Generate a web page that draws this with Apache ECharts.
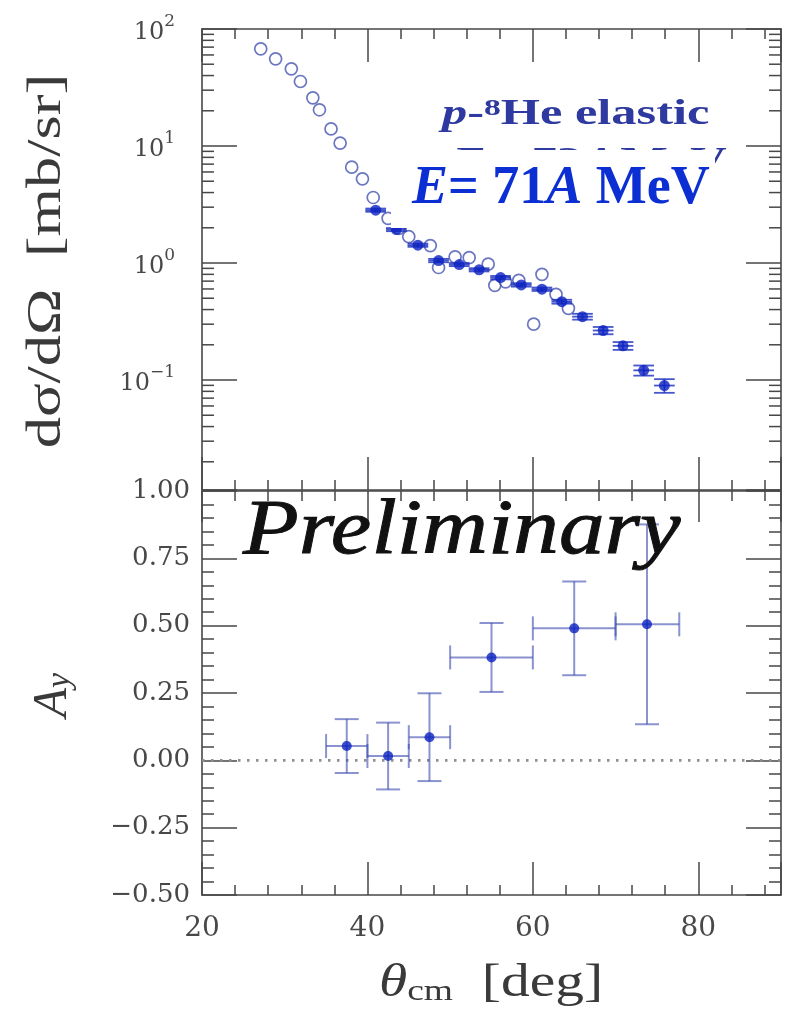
<!DOCTYPE html>
<html>
<head>
<meta charset="utf-8">
<script src="https://cdn.jsdelivr.net/npm/echarts@6/dist/echarts.min.js"></script>
<style>
  html, body { margin: 0; padding: 0; background: #fff; }
  #chart { width: 788px; height: 1015px; }
</style>
</head>
<body>
<div id="chart"></div>
<script>
// ---- shared angle axis (theta_cm, degrees) ----
const thetaMin = 20;
const thetaMax = 90;
const thetaMajorStep = 20;
const thetaMinorStep = 4;

// ---- p-8He elastic cross section, open circles ----
const openTheta = [27.1, 28.9, 30.8, 31.9, 33.4, 34.2, 35.6, 36.7, 38.1, 39.4, 40.7,
                   42.5, 43.8, 45.0, 47.6, 48.6, 50.6, 52.3, 54.6, 55.4, 56.7, 58.3,
                   60.1, 61.1, 62.8, 64.3];
const openSigma = [67.7, 55.6, 45.7, 35.6, 25.8, 20.4, 14.0, 10.6, 6.59, 5.24, 3.63,
                   2.41, 1.98, 1.68, 1.41, 0.915, 1.13, 1.11, 0.98, 0.645, 0.69, 0.71,
                   0.30, 0.80, 0.54, 0.41];

// ---- cross section, filled circles with bin width and errors ----
const filledTheta = [41.0, 43.5, 46.1, 48.6, 51.1, 53.5, 56.1, 58.6, 61.1, 63.5, 66.0,
                     68.5, 70.9, 73.4, 75.9];
const filledSigma = [2.83, 1.93, 1.42, 1.05, 0.97, 0.875, 0.75, 0.65, 0.597, 0.467,
                     0.348, 0.265, 0.196, 0.121, 0.0897];
const filledSigmaErr = [0.09, 0.06, 0.045, 0.035, 0.03, 0.028, 0.025, 0.022, 0.02,
                        0.018, 0.02, 0.019, 0.015, 0.012, 0.012];
const filledHalfBin = 1.25;

// ---- analyzing power A_y ----
const ayTheta = [37.5, 42.5, 47.5, 55.0, 65.0, 73.8];
const ayValue = [0.053, 0.016, 0.086, 0.382, 0.490, 0.505];
const ayErr = [0.100, 0.124, 0.163, 0.128, 0.174, 0.371];
const ayThetaLow = [35, 40, 45, 50, 60, 70];
const ayThetaHigh = [40, 45, 50, 60, 70, 77.7];

// ---- axis ranges ----
const sigmaMin = 0.01148;
const sigmaMax = 100;
const ayMin = -0.5;
const ayMax = 1.0;
const ayStep = 0.25;

const axisColor = '#474747';
const labelColor = '#484848';
const titleColor = '#3a3a3a';
const numFont = 'DejaVu Serif';
const textFont = 'Liberation Serif';

// minor ticks of the log axis: 2..9 x 10^k
const logMinor = [];
for (let k = -2; k <= 1; k++) {
  for (let m = 2; m <= 9; m++) {
    const v = m * Math.pow(10, k);
    if (v > sigmaMin && v < sigmaMax) logMinor.push([thetaMin, v]);
  }
}

function thetaAxis(gridIndex, position, step, tickLen, withLine, withLabels) {
  return {
    type: 'value', gridIndex, position, min: thetaMin, max: thetaMax, interval: step,
    axisLine: { show: withLine, onZero: false, lineStyle: { color: axisColor, width: 1.6 } },
    axisTick: { show: true, inside: true, length: tickLen, lineStyle: { color: axisColor, width: 1.5 } },
    axisLabel: withLabels ? {
      show: true, margin: 20, color: labelColor, fontFamily: numFont, fontSize: 28,
      formatter: v => (v % thetaMajorStep === 0 ? String(v) : '')
    } : { show: false },
    splitLine: { show: false }
  };
}

function sigmaAxis(position, withLabels) {
  return {
    type: 'log', logBase: 10, gridIndex: 0, position, min: sigmaMin, max: sigmaMax,
    axisLine: { show: true, onZero: false, lineStyle: { color: axisColor, width: 1.6 } },
    axisTick: { show: true, inside: true, length: 35, lineStyle: { color: axisColor, width: 1.5 } },
    axisLabel: withLabels ? {
      show: true, margin: 27, color: labelColor,
      formatter: v => {
        const e = Math.log10(v);
        const r = Math.round(e);
        if (Math.abs(e - r) > 1e-6) return '';
        return '{b|10}{s|' + (r < 0 ? '\u2212' : '') + Math.abs(r) + '}';
      },
      rich: {
        b: { fontFamily: numFont, fontSize: 24, lineHeight: 32, verticalAlign: 'bottom', color: labelColor },
        s: { fontFamily: numFont, fontSize: 17, lineHeight: 18, verticalAlign: 'top', color: labelColor }
      }
    } : { show: false },
    splitLine: { show: false }
  };
}

function ayAxis(position, withLabels) {
  return {
    type: 'value', gridIndex: 1, position, min: ayMin, max: ayMax, interval: ayStep,
    axisLine: { show: true, onZero: false, lineStyle: { color: axisColor, width: 1.6 } },
    axisTick: { show: true, inside: true, length: 35, lineStyle: { color: axisColor, width: 1.5 } },
    minorTick: { show: true, splitNumber: 5, length: 12, lineStyle: { color: axisColor, width: 1.5 } },
    axisLabel: withLabels ? {
      show: true, margin: 12, color: labelColor, fontFamily: numFont, fontSize: 26,
      formatter: v => (v < 0 ? '\u2212' : '') + Math.abs(v).toFixed(2)
    } : { show: false },
    splitLine: { show: false }
  };
}

// I-beam error bars for the cross-section points (caps span the angular bin)
function renderSigmaErr(params, api) {
  const th = api.value(0), s = api.value(1), err = api.value(2);
  const c = api.coord([th, s]);
  const lo = api.coord([th, s - err]);
  const hi = api.coord([th, s + err]);
  const l = api.coord([th - filledHalfBin, s]);
  const r = api.coord([th + filledHalfBin, s]);
  const style = { stroke: 'rgba(25,45,190,0.8)', lineWidth: 1.8 };
  return {
    type: 'group',
    children: [
      { type: 'line', shape: { x1: c[0], y1: lo[1], x2: c[0], y2: hi[1] }, style },
      { type: 'line', shape: { x1: l[0], y1: lo[1], x2: r[0], y2: lo[1] }, style },
      { type: 'line', shape: { x1: l[0], y1: hi[1], x2: r[0], y2: hi[1] }, style },
      { type: 'line', shape: { x1: l[0], y1: c[1], x2: r[0], y2: c[1] }, style }
    ]
  };
}

// cross-shaped error bars for A_y
function renderAyErr(params, api) {
  const th = api.value(0), a = api.value(1), err = api.value(2);
  const thLo = api.value(3), thHi = api.value(4);
  const c = api.coord([th, a]);
  const lo = api.coord([th, a - err]);
  const hi = api.coord([th, a + err]);
  const l = api.coord([thLo, a]);
  const r = api.coord([thHi, a]);
  const cap = 12;
  const style = { stroke: 'rgba(60,75,175,0.6)', lineWidth: 2 };
  return {
    type: 'group',
    children: [
      { type: 'line', shape: { x1: c[0], y1: lo[1], x2: c[0], y2: hi[1] }, style },
      { type: 'line', shape: { x1: c[0] - cap, y1: lo[1], x2: c[0] + cap, y2: lo[1] }, style },
      { type: 'line', shape: { x1: c[0] - cap, y1: hi[1], x2: c[0] + cap, y2: hi[1] }, style },
      { type: 'line', shape: { x1: l[0], y1: c[1], x2: r[0], y2: c[1] }, style },
      { type: 'line', shape: { x1: l[0], y1: c[1] - cap, x2: l[0], y2: c[1] + cap }, style },
      { type: 'line', shape: { x1: r[0], y1: c[1] - cap, x2: r[0], y2: c[1] + cap }, style }
    ]
  };
}

// short log-minor ticks on both vertical edges of the upper panel
function renderLogMinor(params, api) {
  const v = api.value(1);
  const p = api.coord([thetaMin, v]);
  const q = api.coord([thetaMax, v]);
  const style = { stroke: axisColor, lineWidth: 1.5 };
  return {
    type: 'group',
    children: [
      { type: 'line', shape: { x1: p[0], y1: p[1], x2: p[0] + 12, y2: p[1] }, style },
      { type: 'line', shape: { x1: q[0] - 12, y1: q[1], x2: q[0], y2: q[1] }, style }
    ]
  };
}

const chart = echarts.init(document.getElementById('chart'), null, { renderer: 'canvas' });

const blueDark = '#2e3a9f';
const blueBright = '#0b2fd3';

const option = {
  backgroundColor: '#ffffff',
  animation: false,
  grid: [
    { left: 202, right: 7, top: 29, height: 461, outerBoundsMode: 'none', containLabel: false },
    { left: 202, right: 7, top: 491, height: 404, outerBoundsMode: 'none', containLabel: false }
  ],
  xAxis: [
    thetaAxis(0, 'bottom', thetaMajorStep, 33, true, false),
    thetaAxis(0, 'bottom', thetaMinorStep, 10, false, false),
    thetaAxis(0, 'top', thetaMajorStep, 33, true, false),
    thetaAxis(0, 'top', thetaMinorStep, 10, false, false),
    thetaAxis(1, 'bottom', thetaMajorStep, 33, true, true),
    thetaAxis(1, 'bottom', thetaMinorStep, 10, false, false),
    thetaAxis(1, 'top', thetaMajorStep, 31, true, false),
    thetaAxis(1, 'top', thetaMinorStep, 10, false, false)
  ],
  yAxis: [
    sigmaAxis('left', true),
    sigmaAxis('right', false),
    ayAxis('left', true),
    ayAxis('right', false)
  ],
  series: [
    {
      type: 'custom', name: 'log minor ticks', xAxisIndex: 0, yAxisIndex: 0,
      data: logMinor, renderItem: renderLogMinor, silent: true, z: 1
    },
    {
      type: 'scatter', name: 'open', xAxisIndex: 0, yAxisIndex: 0,
      data: openTheta.map((t, i) => [t, openSigma[i]]),
      symbol: 'circle', symbolSize: 12,
      itemStyle: { color: 'rgba(255,255,255,0)', borderColor: '#4654b0', borderWidth: 1.7 },
      z: 3
    },
    {
      type: 'custom', name: 'sigma errors', xAxisIndex: 0, yAxisIndex: 0,
      data: filledTheta.map((t, i) => [t, filledSigma[i], filledSigmaErr[i]]),
      renderItem: renderSigmaErr, z: 4
    },
    {
      type: 'scatter', name: 'filled', xAxisIndex: 0, yAxisIndex: 0,
      data: filledTheta.map((t, i) => [t, filledSigma[i]]),
      symbol: 'circle', symbolSize: 11,
      itemStyle: { color: '#0b22c0' },
      z: 5
    },
    {
      type: 'line', name: 'zero', xAxisIndex: 4, yAxisIndex: 2,
      data: [[thetaMin, 0], [thetaMax, 0]], symbol: 'none',
      lineStyle: { color: '#8e8e8e', width: 2.6, type: [2.5, 6.5] }, z: 1
    },
    {
      type: 'custom', name: 'Ay errors', xAxisIndex: 4, yAxisIndex: 2,
      data: ayTheta.map((t, i) => [t, ayValue[i], ayErr[i], ayThetaLow[i], ayThetaHigh[i]]),
      renderItem: renderAyErr, z: 3
    },
    {
      type: 'scatter', name: 'Ay', xAxisIndex: 4, yAxisIndex: 2,
      data: ayTheta.map((t, i) => [t, ayValue[i]]),
      symbol: 'circle', symbolSize: 10,
      itemStyle: { color: '#0b22c0' },
      z: 5
    }
  ],
  graphic: [
    // vertical title of the upper panel
    {
      type: 'text', x: 47, y: 261, rotation: Math.PI / 2, scaleX: 1.3, z: 50,
      style: {
        text: 'd\u03c3/d\u03a9  [mb/sr]', fill: titleColor,
        fontFamily: textFont, fontSize: 48, align: 'center', verticalAlign: 'middle'
      }
    },
    // vertical title of the lower panel
    {
      type: 'text', x: 53, y: 695, rotation: Math.PI / 2, z: 50,
      style: {
        text: '{a|A}{s|y}', align: 'center', verticalAlign: 'middle',
        rich: {
          a: { fontFamily: textFont, fontStyle: 'italic', fontSize: 48, lineHeight: 48, fill: titleColor },
          s: { fontFamily: textFont, fontStyle: 'italic', fontSize: 34, lineHeight: 18, verticalAlign: 'bottom', fill: titleColor }
        }
      }
    },
    // horizontal title
    {
      type: 'text', x: 491, y: 984, scaleX: 1.25, z: 50,
      style: {
        text: '{t|\u03b8}{c|cm}{n|  [deg]}', align: 'center', verticalAlign: 'middle',
        rich: {
          t: { fontFamily: textFont, fontStyle: 'italic', fontSize: 46, lineHeight: 46, fill: titleColor },
          c: { fontFamily: textFont, fontSize: 30, lineHeight: 20, verticalAlign: 'bottom', fill: titleColor },
          n: { fontFamily: textFont, fontSize: 46, lineHeight: 46, fill: titleColor }
        }
      }
    },
    // reaction label
    {
      type: 'text', x: 442, y: 115, scaleX: 1.4, z: 60,
      style: {
        text: '{i|p}{n|-}{s|8}{n|He elastic}', align: 'left', verticalAlign: 'middle',
        rich: {
          i: { fontFamily: textFont, fontStyle: 'italic', fontWeight: 'bold', fontSize: 36, lineHeight: 36, fill: blueDark },
          n: { fontFamily: textFont, fontWeight: 'bold', fontSize: 36, lineHeight: 36, fill: blueDark },
          s: { fontFamily: textFont, fontWeight: 'bold', fontSize: 24, lineHeight: 22, verticalAlign: 'top', fill: blueDark }
        }
      }
    },
    // earlier energy line, mostly covered by the patch below
    {
      type: 'text', x: 452, y: 163, scaleX: 1.4, z: 60,
      style: {
        text: '{i|E} {n|= 72}{i|A} {n|MeV}', align: 'left', verticalAlign: 'middle',
        rich: {
          i: { fontFamily: textFont, fontStyle: 'italic', fontWeight: 'bold', fontSize: 36, lineHeight: 36, fill: blueDark },
          n: { fontFamily: textFont, fontWeight: 'bold', fontSize: 36, lineHeight: 36, fill: blueDark }
        }
      }
    },
    {
      type: 'rect', z: 70,
      shape: { x: 391, y: 150, width: 324, height: 78 },
      style: { fill: '#ffffff' }
    },
    {
      type: 'text', x: 412, y: 189, z: 80,
      style: {
        text: '{i|E}{n|= 71}{i|A}{n| MeV}', align: 'left', verticalAlign: 'middle',
        rich: {
          i: { fontFamily: textFont, fontStyle: 'italic', fontWeight: 'bold', fontSize: 54, lineHeight: 54, fill: blueBright },
          n: { fontFamily: textFont, fontWeight: 'bold', fontSize: 54, lineHeight: 54, fill: blueBright }
        }
      }
    },
    // stamp across the lower panel
    {
      type: 'text', x: 243, y: 532, scaleX: 1.17, z: 80,
      style: {
        text: 'Preliminary', fill: '#111111', stroke: '#111111', lineWidth: 0.9,
        fontFamily: textFont, fontStyle: 'italic', fontSize: 78,
        align: 'left', verticalAlign: 'middle'
      }
    }
  ]
};

chart.setOption(option);
</script>
</body>
</html>
